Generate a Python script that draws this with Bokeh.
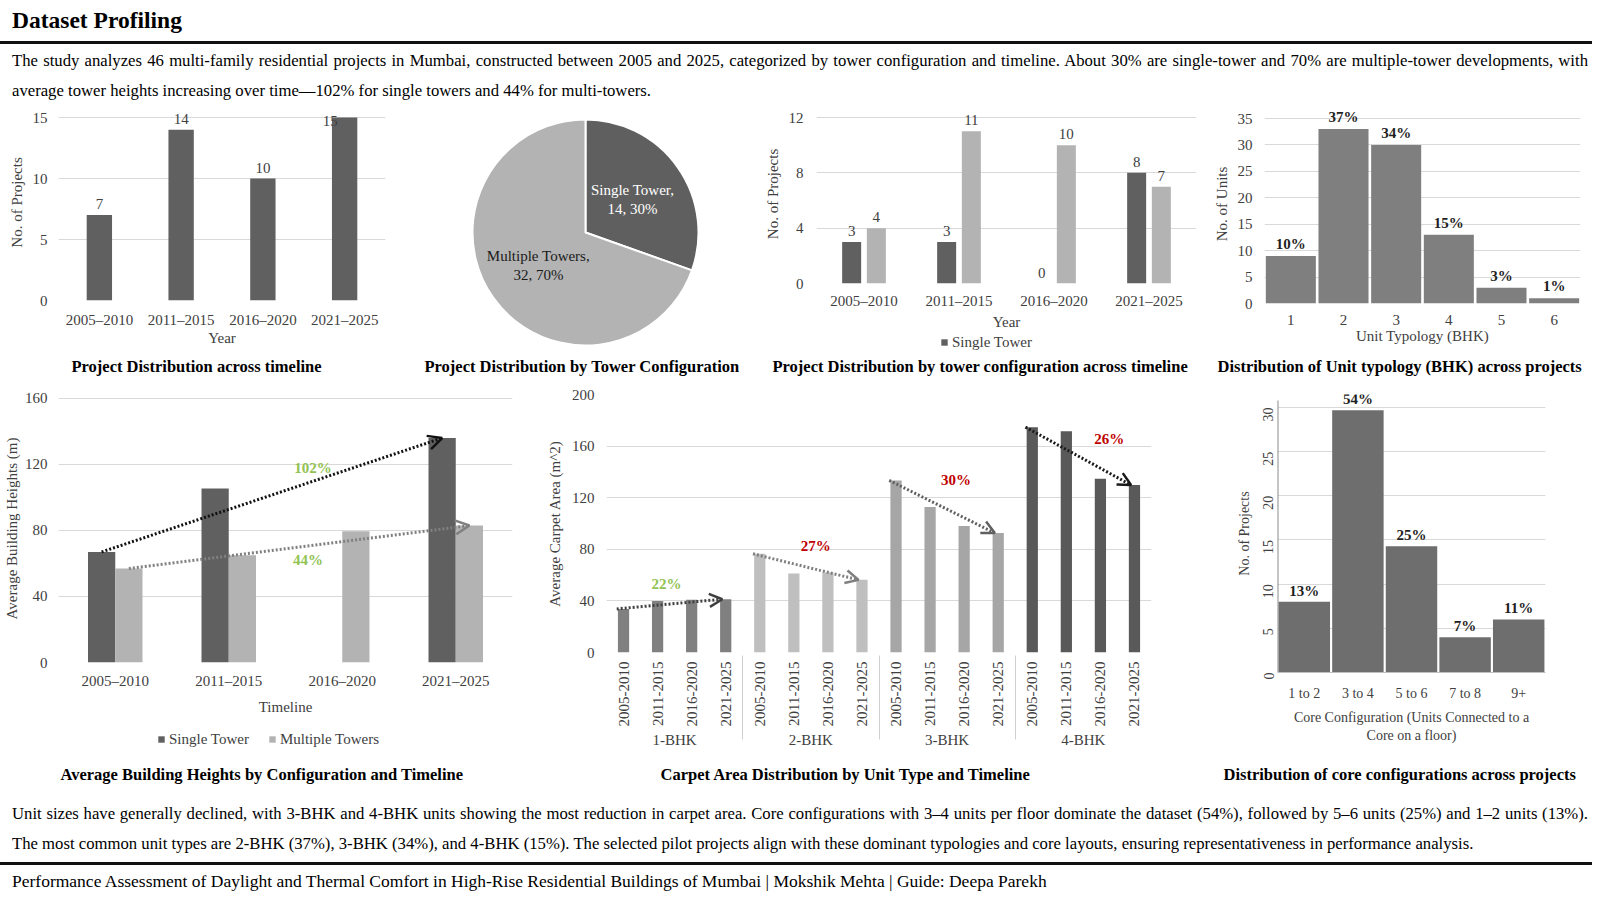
import math
from bokeh.plotting import figure
from bokeh.models import (FactorRange, Range1d, Title, Legend, LegendItem, Div, Arrow, OpenHead,
                          ColumnDataSource, SingleIntervalTicker)
from bokeh.layouts import column, row
from bokeh.core.properties import value
from bokeh.embed import file_html
from bokeh.resources import INLINE
from bokeh.transform import dodge

FONT = "Liberation Serif"

# ---------------- data ----------------
periods = ["2005–2010", "2011–2015", "2016–2020", "2021–2025"]
projects_per_period = [7, 14, 10, 15]

tower_types = ["Single Tower", "Multiple Towers"]
tower_counts = [14, 32]
tower_share = ["30%", "70%"]

single_per_period = [3, 3, 0, 8]
multi_per_period = [4, 11, 10, 7]

bhk_types = ["1", "2", "3", "4", "5", "6"]
bhk_units = [9, 33, 30, 13, 3, 1]
bhk_share = ["10%", "37%", "34%", "15%", "3%", "1%"]

height_single = [67, 105.5, 0, 136]
height_multi = [57, 65, 79.5, 83]
height_growth = ["102%", "44%"]

carpet_bhk = ["1-BHK", "2-BHK", "3-BHK", "4-BHK"]
carpet_periods = ["2005-2010", "2011-2015", "2016-2020", "2021-2025"]
carpet_1bhk = [33.8, 40, 40.8, 41.3]
carpet_2bhk = [76.5, 61.2, 62, 56.3]
carpet_3bhk = [133.4, 112.8, 98, 92.6]
carpet_4bhk = [174.7, 171.6, 134.7, 129.8]
carpet_change = ["22%", "27%", "30%", "26%"]

core_configs = ["1 to 2", "3 to 4", "5 to 6", "7 to 8", "9+"]
core_projects = [8, 29.7, 14.3, 4, 6]
core_share = ["13%", "54%", "25%", "7%", "11%"]

intro_lines = [
    "The study analyzes 46 multi-family residential projects in Mumbai, constructed between 2005 and 2025, categorized by tower configuration and timeline. About 30% are single-tower and 70% are multiple-tower developments, with",
    "average tower heights increasing over time—102% for single towers and 44% for multi-towers.",
]
outro_lines = [
    "Unit sizes have generally declined, with 3-BHK and 4-BHK units showing the most reduction in carpet area. Core configurations with 3–4 units per floor dominate the dataset (54%), followed by 5–6 units (25%) and 1–2 units (13%).",
    "The most common unit types are 2-BHK (37%), 3-BHK (34%), and 4-BHK (15%). The selected pilot projects align with these dominant typologies and core layouts, ensuring representativeness in performance analysis.",
]
footer_text = "Performance Assessment of Daylight and Thermal Comfort in High-Rise Residential Buildings of Mumbai | Mokshik Mehta | Guide: Deepa Parekh"

DARK = "#606060"
LIGHT = "#b3b3b3"
GREEN = "#92c353"
RED = "#c00000"
TXT = "#404040"
BOLDTXT = "#1f1f1f"


def base_fig(frame_w, frame_h, x_range, y_range, mb):
    l, r, t, b = mb
    p = figure(frame_width=frame_w, frame_height=frame_h, x_range=x_range, y_range=y_range, title=None,
               min_border_left=l, min_border_right=r, min_border_top=t, min_border_bottom=b,
               output_backend="svg", toolbar_location=None)
    p.outline_line_color = None
    p.xgrid.grid_line_color = None
    p.ygrid.grid_line_color = "#d9d9d9"
    p.ygrid.grid_line_width = 1
    for ax in p.axis:
        ax.axis_line_color = None
        ax.major_tick_line_color = None
        ax.minor_tick_line_color = None
        ax.major_label_text_font = FONT
        ax.major_label_text_font_size = "15px"
        ax.major_label_text_color = TXT
        ax.axis_label_text_font = FONT
        ax.axis_label_text_font_size = "15px"
        ax.axis_label_text_font_style = "normal"
        ax.axis_label_text_color = TXT
    return p


def foot(l, r, fw, fh, text, offset, legend_items=None, legend_loc=(0, 0)):
    """Strip under a chart holding its caption (and legend, if any)."""
    f = figure(frame_width=fw, frame_height=fh, x_range=Range1d(0, 1), y_range=Range1d(0, 1), title=None,
               min_border_left=l, min_border_right=r, min_border_top=0, min_border_bottom=28,
               output_backend="svg", toolbar_location=None, x_axis_location=None, y_axis_location=None)
    f.outline_line_color = None
    f.grid.grid_line_color = None
    if legend_items:
        items = []
        for lab, col in legend_items:
            # legend swatch only: a zero-height bar outside the visible range
            rr = f.vbar(x=[5], top=[0], width=0.5, fill_color=col, line_color=None)
            items.append(LegendItem(label=lab, renderers=[rr]))
        leg = Legend(items=items, orientation="horizontal", location=legend_loc, label_text_font=FONT,
                     label_text_font_size="15px", label_text_color=TXT, glyph_width=8, glyph_height=8,
                     label_standoff=4, spacing=19, padding=0, margin=0, label_height=18,
                     border_line_color=None, background_fill_alpha=0)
        f.add_layout(leg)
    t = Title(text=text, align="left", offset=offset, standoff=0, text_font=FONT, text_font_size="16.5px",
              text_font_style="bold", text_color="black")
    f.add_layout(t, "below")
    return f


def labels(p, x, y, text, bold=False, size="15px", yoff=-5, color=TXT, x_offset=0, align="center", baseline="bottom"):
    src = ColumnDataSource(dict(x=x, y=y, t=text))
    p.text(x="x", y="y", text="t", source=src, text_align=align, text_baseline=baseline,
           y_offset=yoff, x_offset=x_offset, text_font=value(FONT), text_font_size=size,
           text_font_style="bold" if bold else "normal", text_color=color)


def stack(p, f):
    return column(p, f, spacing=0)


# ---------------- chart 1 ----------------
p1 = base_fig(327, 196, FactorRange(*periods, range_padding=0), Range1d(0, 16.07), (58, 15, 0, 50))
p1.yaxis.ticker = SingleIntervalTicker(interval=5)
p1.xaxis.axis_label = "Year"
p1.xaxis.axis_label_standoff = -1
p1.yaxis.axis_label = "No. of Projects"
p1.vbar(x=periods, top=projects_per_period, width=0.31, fill_color=DARK, line_color=None)
ymax1 = 15
inner = [i for i, v in enumerate(projects_per_period) if v < ymax1]
at_top = [i for i, v in enumerate(projects_per_period) if v >= ymax1]
labels(p1, [periods[i] for i in inner], [projects_per_period[i] for i in inner],
       [str(projects_per_period[i]) for i in inner], yoff=-6)
labels(p1, [periods[i] for i in at_top], [projects_per_period[i] for i in at_top],
       [str(projects_per_period[i]) for i in at_top], yoff=3, x_offset=-7, align="right", baseline="middle")
f1 = foot(58, 15, 327, 4, "Project Distribution across timeline", 13)

# ---------------- chart 2 (pie) ----------------
pw, ph = 352, 248
p2 = figure(frame_width=pw, frame_height=ph, x_range=Range1d(0, pw), y_range=Range1d(0, ph), title=None,
            min_border_left=0, min_border_right=0, min_border_top=0, min_border_bottom=0,
            output_backend="svg", toolbar_location=None, x_axis_location=None, y_axis_location=None)
p2.outline_line_color = None
p2.grid.grid_line_color = None
total = sum(tower_counts)
fracs = [c / total for c in tower_counts]
starts, ends, mids = [], [], []
a = math.pi / 2
for f in fracs:
    starts.append(a)
    ends.append(a - 2 * math.pi * f)
    mids.append(a - math.pi * f)
    a -= 2 * math.pi * f
cx, cy, R = 185, 120, 113
p2.wedge(x=cx, y=cy, radius=R, start_angle=starts, end_angle=ends, direction="clock",
         fill_color=["#5f5f5f", LIGHT], line_color="white", line_width=2)
pie_text = [f"{n},\n{c}, {s}" for n, c, s in zip(tower_types, tower_counts, tower_share)]
p2.text(x=[cx + 0.51 * R * math.cos(m) for m in mids], y=[cy + 0.51 * R * math.sin(m) for m in mids],
        text=pie_text, text_align="center", text_baseline="middle", text_font=value(FONT),
        text_font_size="15px", text_color=["white", "#1a1a1a"], text_line_height=1.2)
f2 = foot(0, 0, 352, 2, "Project Distribution by Tower Configuration", 24)

# ---------------- chart 3 ----------------
p3 = base_fig(380, 179, FactorRange(*periods, range_padding=0), Range1d(0, 12.94), (64, 2, 0, 50))
p3.yaxis.ticker = SingleIntervalTicker(interval=4)
p3.yaxis.major_label_standoff = 7
p3.xaxis.major_label_standoff = 3
p3.xaxis.axis_label = "Year"
p3.xaxis.axis_label_standoff = 2
p3.yaxis.axis_label = "No. of Projects"
src3 = ColumnDataSource(dict(x=periods, s=single_per_period, m=multi_per_period,
                             sl=[str(v) for v in single_per_period], ml=[str(v) for v in multi_per_period]))
p3.vbar(x=dodge("x", -0.13, range=p3.x_range), top="s", width=0.2, source=src3, fill_color=DARK, line_color=None)
p3.vbar(x=dodge("x", 0.13, range=p3.x_range), top="m", width=0.2, source=src3, fill_color=LIGHT, line_color=None)
for col, lab, off in (("s", "sl", -0.13), ("m", "ml", 0.13)):
    p3.text(x=dodge("x", off, range=p3.x_range), y=col, text=lab, source=src3, text_align="center",
            text_baseline="bottom", y_offset=-6, text_font=value(FONT), text_font_size="15px", text_color=TXT)
f3 = foot(64, 2, 380, 21, "Project Distribution by tower configuration across timeline", -44,
          legend_items=[(tower_types[0], DARK)], legend_loc=(124, 3))

# ---------------- chart 4 ----------------
p4 = base_fig(316, 199, FactorRange(*bhk_types, range_padding=0), Range1d(0, 37.65), (66, 12, 0, 50))
p4.yaxis.ticker = SingleIntervalTicker(interval=5)
p4.yaxis.major_label_standoff = 6
p4.xaxis.major_label_standoff = 5
p4.xaxis.axis_label = "Unit Typology (BHK)"
p4.xaxis.axis_label_standoff = 0
p4.yaxis.axis_label = "No. of Units"
p4.vbar(x=bhk_types, top=bhk_units, width=0.95, fill_color="#7f7f7f", line_color=None)
labels(p4, bhk_types, bhk_units, bhk_share, bold=True, yoff=-4, color=BOLDTXT)
f4 = foot(66, 12, 316, 1, "Distribution of Unit typology (BHK) across projects", -47)

# ---------------- chart 5 ----------------
p5 = base_fig(454, 268, FactorRange(*periods, range_padding=0), Range1d(0, 162.4), (58, 28, 12, 56))
p5.yaxis.ticker = SingleIntervalTicker(interval=40)
p5.yaxis.axis_label_standoff = 2
p5.xaxis.major_label_standoff = 4
p5.xaxis.axis_label = "Timeline"
p5.xaxis.axis_label_standoff = 7
p5.yaxis.axis_label = "Average Building Heights (m)"
src5 = ColumnDataSource(dict(x=periods, s=height_single, m=height_multi))
p5.vbar(x=dodge("x", -0.12, range=p5.x_range), top="s", width=0.24, source=src5, fill_color=DARK, line_color=None)
p5.vbar(x=dodge("x", 0.12, range=p5.x_range), top="m", width=0.24, source=src5, fill_color=LIGHT, line_color=None)
n5 = len(periods)
for vals, off, colr, lab, dx, dy in ((height_single, -0.12, "#111111", height_growth[0], 41, -27),
                                     (height_multi, 0.12, "#808080", height_growth[1], 9, 13)):
    xs, xe = 0.5 + off, n5 - 0.5 + off
    p5.add_layout(Arrow(end=OpenHead(size=14, line_width=2.5, line_color=colr),
                        x_start=xs, y_start=vals[0], x_end=xe, y_end=vals[-1],
                        line_color=colr, line_width=3, line_dash="2 2"))
    p5.text(x=[(xs + xe) / 2], y=[(vals[0] + vals[-1]) / 2], text=[lab], x_offset=dx, y_offset=dy,
            text_align="center", text_baseline="middle", text_font=value(FONT), text_font_size="15px",
            text_font_style="bold", text_color=GREEN)
f5 = foot(58, 28, 454, 44, "Average Building Heights by Configuration and Timeline", 2,
          legend_items=[(tower_types[0], DARK), (tower_types[1], LIGHT)], legend_loc=(99, 14))

# ---------------- chart 6 ----------------
factors6 = [(b, t) for b in carpet_bhk for t in carpet_periods]
series6 = [carpet_1bhk, carpet_2bhk, carpet_3bhk, carpet_4bhk]
colors6 = ["#808080", "#bfbfbf", "#a6a6a6", "#595959"]
arrow6 = ["#404040", "#7f7f7f", "#606060", "#1a1a1a"]
lab6_col = [GREEN, RED, RED, RED]
lab6_off = [(-3, -20), (10, -21), (14, -27), (31, -17)]
p6 = base_fig(545, 258, FactorRange(*factors6, range_padding=0, group_padding=0, factor_padding=0),
              Range1d(0, 200), (66, 19, 12, 100))
p6.yaxis.ticker = SingleIntervalTicker(interval=40)
p6.yaxis.major_label_standoff = 6
p6.yaxis.axis_label_standoff = 6
p6.yaxis.axis_label = "Average Carpet Area (m^2)"
p6.xaxis.major_label_orientation = math.pi / 2
p6.xaxis.major_label_standoff = 3
p6.xaxis.group_text_font = FONT
p6.xaxis.group_text_font_size = "15px"
p6.xaxis.group_text_font_style = "normal"
p6.xaxis.group_text_color = TXT
p6.xaxis.separator_line_color = "#d0d0d0"
p6.xaxis.separator_line_width = 1
tops6 = [v for s in series6 for v in s]
fills6 = [colors6[i] for i, s in enumerate(series6) for _ in s]
p6.vbar(x=factors6, top=tops6, width=0.33, fill_color=fills6, line_color=None)
nper = len(carpet_periods)
for g, vals in enumerate(series6):
    xs = g * nper + 0.5 - 0.2
    xe = g * nper + nper - 0.5 - 0.1
    p6.add_layout(Arrow(end=OpenHead(size=13, line_width=2.5, line_color=arrow6[g]),
                        x_start=xs, y_start=vals[0], x_end=xe, y_end=vals[-1],
                        line_color=arrow6[g], line_width=3, line_dash="2 2"))
    p6.text(x=[(xs + xe) / 2], y=[(vals[0] + vals[-1]) / 2], text=[carpet_change[g]],
            x_offset=lab6_off[g][0], y_offset=lab6_off[g][1], text_align="center", text_baseline="middle",
            text_font=value(FONT), text_font_size="15px", text_font_style="bold", text_color=lab6_col[g])
f6 = foot(66, 19, 545, 10, "Carpet Area Distribution by Unit Type and Timeline", 54)

# ---------------- chart 7 ----------------
p7 = base_fig(268, 278, FactorRange(*core_configs, range_padding=0), Range1d(0, 31.47), (107, 47, 12, 76))
p7.yaxis.ticker = SingleIntervalTicker(interval=5)
p7.yaxis.major_label_orientation = math.pi / 2
p7.yaxis.major_label_standoff = 3
p7.yaxis.axis_label_standoff = 4
p7.yaxis.major_label_text_font_size = "14px"
p7.xaxis.major_label_text_font_size = "14px"
p7.xaxis.major_label_standoff = 7
p7.xaxis.axis_label_standoff = 6
p7.yaxis.axis_label_text_font_size = "14px"
p7.xaxis.axis_label_text_font_size = "14px"
p7.yaxis.axis_label = "No. of Projects"
p7.xaxis.axis_label = "Core Configuration (Units Connected to a\nCore on a floor)"
p7.xaxis.axis_line_color = "#bfbfbf"
p7.segment(x0=[0], y0=[0], x1=[0], y1=[30.8], line_color="#8c8c8c", line_width=2)
p7.vbar(x=core_configs, top=core_projects, width=0.96, fill_color="#6e6e6e", line_color=None)
labels(p7, core_configs, core_projects, core_share, bold=True, yoff=-3, color=BOLDTXT)
f7 = foot(107, 47, 268, 14, "Distribution of core configurations across projects", -54)

# ---------------- text blocks ----------------
W = 1592
base_css = "font-family:'Liberation Serif';color:#000;"
head = Div(text=(f'<div style="{base_css}width:{W}px;height:36px;box-sizing:border-box;border-bottom:3px solid #111;'
                 'font-weight:bold;font-size:23.5px;line-height:24px;padding:0 4px 0 12px;">Dataset Profiling</div>'),
           width=W, height=36, margin=0)


def para(lines, top_pad):
    first = f'<div style="text-align:justify;text-align-last:justify;white-space:nowrap;">{lines[0]}</div>'
    rest = "".join(f'<div>{ln}</div>' for ln in lines[1:])
    return (f'<div style="{base_css}width:{W}px;box-sizing:border-box;font-size:16.7px;line-height:30px;'
            f'padding:{top_pad}px 4px 0 12px;">{first}{rest}</div>')


intro = Div(text=para(intro_lines, 2), width=W, height=60, margin=0)
outro_html = (f'<div style="width:{W}px;height:102px;box-sizing:border-box;">'
              f'{para(outro_lines, 9)}'
              f'<div style="margin-top:3px;border-top:3px solid #111;{base_css}font-size:17.5px;line-height:22px;'
              f'padding:5px 4px 0 12px;">{footer_text}</div></div>')
outro = Div(text=outro_html, width=W, height=102, margin=0)

row1 = row(stack(p1, f1), stack(p2, f2), stack(p3, f3), stack(p4, f4), spacing=0)
row2 = row(stack(p5, f5), stack(p6, f6), stack(p7, f7), spacing=0)
layout = column(head, intro, row1, row2, outro, spacing=0, margin=(8, 8, 0, 0))

open("out.html", "w").write(file_html(layout, INLINE))
